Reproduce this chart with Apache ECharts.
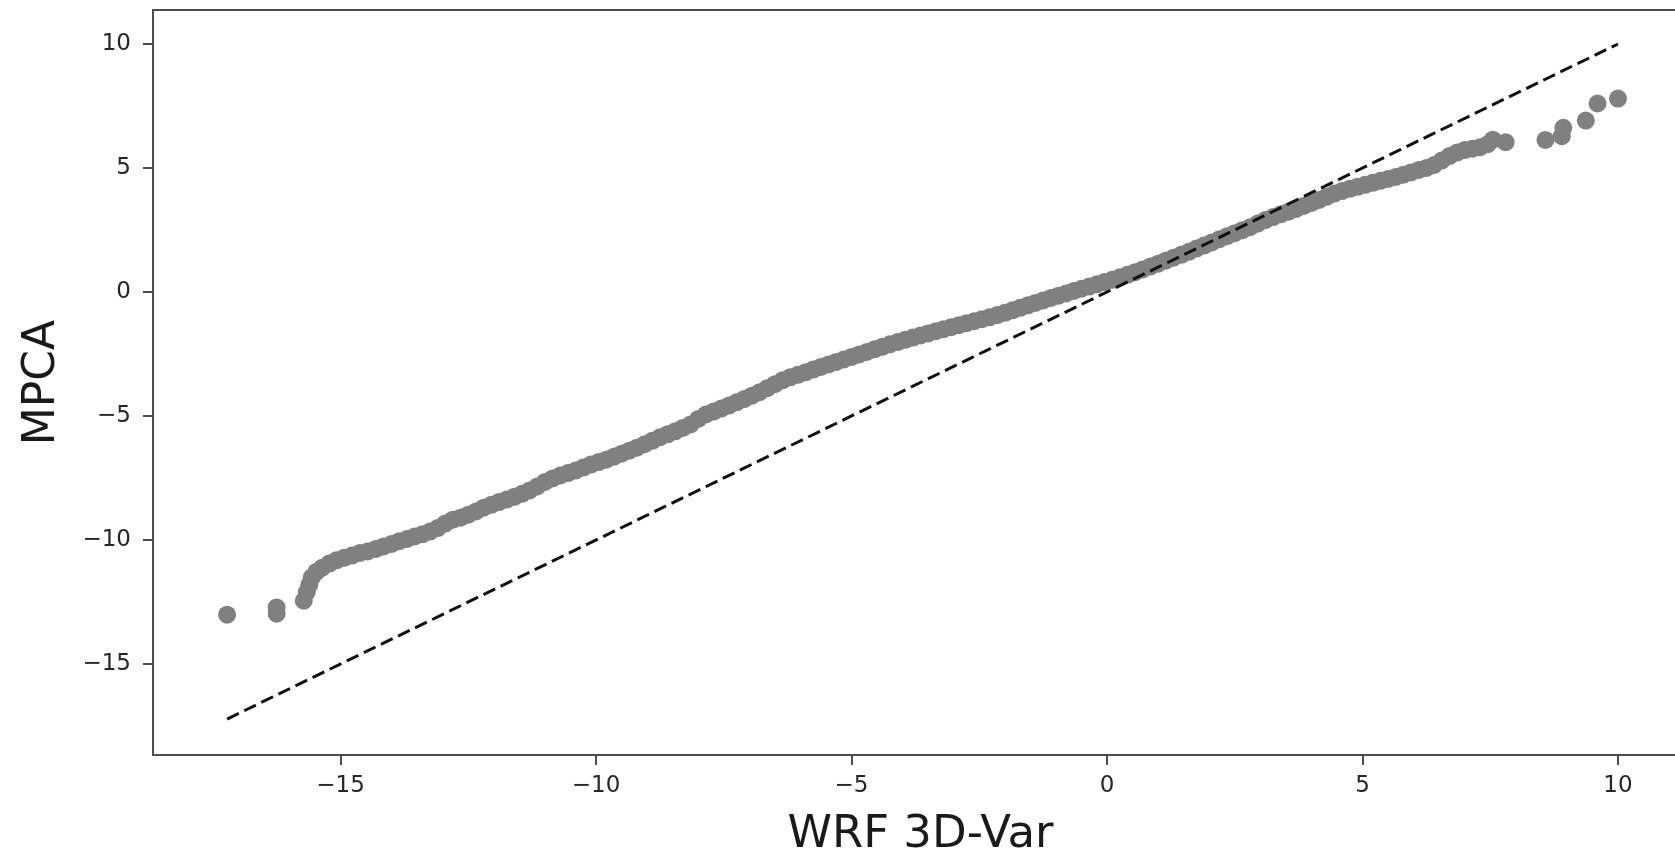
<!DOCTYPE html>
<html>
<head>
<meta charset="utf-8">
<title>MPCA vs WRF 3D-Var quantiles</title>
<script src="https://cdn.jsdelivr.net/npm/echarts@6/dist/echarts.min.js"></script>
<style>
  html, body { margin: 0; padding: 0; background: #ffffff; }
  #chart { width: 1675px; height: 859px; }
</style>
</head>
<body>
<div id="chart"></div>
<script>
// Sorted quantiles: WRF 3D-Var (x) against MPCA (y)
const wrfQuantiles = [
  -17.22, -16.25, -16.25,
  -15.72, -15.66, -15.61, -15.56, -15.47, -15.36, -15.22, -15.08, -14.93, -14.78,
  -14.62, -14.47, -14.31, -14.16, -14.00, -13.85, -13.70, -13.55, -13.40, -13.25,
  -13.10, -12.95, -12.80, -12.65, -12.50, -12.35, -12.20, -12.05, -11.90, -11.75,
  -11.60, -11.45, -11.30, -11.15, -11.00, -10.85, -10.70, -10.55, -10.40, -10.25,
  -10.10, -9.95, -9.80, -9.65, -9.50, -9.35, -9.20, -9.05, -8.90, -8.75,
  -8.60, -8.45, -8.30, -8.15, -8.00, -7.85, -7.70, -7.55, -7.40, -7.25,
  -7.10, -6.95, -6.80, -6.65, -6.50, -6.35, -6.20, -6.05, -5.90, -5.75,
  -5.60, -5.45, -5.30, -5.15, -5.00, -4.85, -4.70, -4.55, -4.40, -4.25,
  -4.10, -3.95, -3.80, -3.65, -3.50, -3.35, -3.20, -3.05, -2.90, -2.75,
  -2.60, -2.45, -2.30, -2.15, -2.00, -1.85, -1.70, -1.55, -1.40, -1.25,
  -1.10, -0.95, -0.80, -0.65, -0.50, -0.35, -0.20, -0.05, 0.10, 0.25,
  0.40, 0.55, 0.70, 0.85, 1.00, 1.15, 1.30, 1.45, 1.60, 1.75,
  1.90, 2.05, 2.20, 2.35, 2.50, 2.65, 2.80, 2.95, 3.10, 3.25,
  3.40, 3.55, 3.70, 3.85, 4.00, 4.15, 4.30, 4.45, 4.60, 4.75,
  4.90, 5.05, 5.20, 5.35, 5.50, 5.65, 5.80, 5.95, 6.10, 6.25,
  6.40, 6.55, 6.70, 6.85, 7.00, 7.15, 7.30, 7.45, 7.55, 7.80,
  8.58, 8.90, 8.93, 9.37, 9.60, 10.00
];
const mpcaQuantiles = [
  -13.01, -12.72, -12.97,
  -12.45, -12.10, -11.80, -11.50, -11.28, -11.12, -10.95, -10.82, -10.72, -10.63,
  -10.52, -10.46, -10.36, -10.26, -10.16, -10.05, -9.96, -9.86, -9.77, -9.66,
  -9.52, -9.34, -9.18, -9.10, -8.98, -8.85, -8.70, -8.58, -8.47, -8.37,
  -8.26, -8.14, -8.00, -7.84, -7.66, -7.52, -7.40, -7.30, -7.20, -7.08,
  -6.96, -6.86, -6.76, -6.64, -6.52, -6.40, -6.28, -6.14, -6.00, -5.86,
  -5.74, -5.62, -5.48, -5.34, -5.12, -4.94, -4.82, -4.70, -4.58, -4.45,
  -4.32, -4.18, -4.04, -3.88, -3.72, -3.56, -3.44, -3.34, -3.24, -3.13,
  -3.02, -2.92, -2.82, -2.72, -2.62, -2.52, -2.42, -2.31, -2.21, -2.11,
  -2.02, -1.93, -1.84, -1.75, -1.67, -1.58, -1.50, -1.42, -1.34, -1.26,
  -1.18, -1.10, -1.02, -0.93, -0.84, -0.74, -0.64, -0.54, -0.44, -0.34,
  -0.24, -0.15, -0.06, 0.04, 0.13, 0.22, 0.31, 0.40, 0.49, 0.59,
  0.69, 0.80, 0.91, 1.03, 1.14, 1.26, 1.38, 1.50, 1.62, 1.75,
  1.87, 2.00, 2.13, 2.25, 2.37, 2.49, 2.61, 2.76, 2.90, 3.02,
  3.13, 3.24, 3.35, 3.47, 3.59, 3.71, 3.84, 3.97, 4.07, 4.16,
  4.24, 4.32, 4.40, 4.48, 4.56, 4.64, 4.73, 4.82, 4.92, 5.00,
  5.12, 5.30, 5.48, 5.62, 5.72, 5.78, 5.84, 5.96, 6.14, 6.04,
  6.13, 6.28, 6.62, 6.91, 7.60, 7.80
];

// 1:1 reference line, drawn from the smallest to the largest quantile
const referenceLine = [-17.22, 10.00];

// Axis ticks and their labels
const tickValues = [-15, -10, -5, 0, 5, 10];
const xTickLabels = ['\u221215', '\u221210', '\u22125', '0', '5', '10'];
const yTickLabels = ['\u221215', '\u221210', '\u22125', '0', '5', '10'];

const points = wrfQuantiles.map((x, i) => [x, mpcaQuantiles[i]]);
const linePoints = referenceLine.map(v => [v, v]);

const FONT = 'DejaVu Sans';
const SPINE = '#4d4d4d';

function labelFor(labels) {
  return function (value) {
    const idx = tickValues.indexOf(Math.round(value));
    return idx >= 0 ? labels[idx] : '';
  };
}

const chart = echarts.init(document.getElementById('chart'), null, { renderer: 'canvas' });

chart.setOption({
  backgroundColor: '#ffffff',
  animation: false,
  grid: {
    left: 153,
    top: 10,
    width: 1535,
    height: 745,
    outerBoundsMode: 'none',
    containLabel: false,
    show: false
  },
  xAxis: [
    {
      type: 'value',
      position: 'bottom',
      min: -18.67,
      max: 11.37,
      name: 'WRF 3D-Var',
      nameLocation: 'middle',
      nameGap: 58,
      nameTextStyle: { fontFamily: FONT, fontSize: 45, color: '#1a1a1a' },
      axisLine: { show: true, onZero: false, lineStyle: { color: SPINE, width: 2 } },
      axisTick: {
        show: true, inside: false, length: 10,
        customValues: tickValues,
        lineStyle: { color: SPINE, width: 2 }
      },
      axisLabel: {
        show: true, margin: 20,
        customValues: tickValues,
        formatter: labelFor(xTickLabels),
        fontFamily: FONT, fontSize: 23, color: '#262626'
      },
      splitLine: { show: false }
    },
    {
      // top spine of the frame
      type: 'value',
      position: 'top',
      min: -18.67,
      max: 11.37,
      axisLine: { show: true, onZero: false, lineStyle: { color: SPINE, width: 2 } },
      axisTick: { show: false },
      axisLabel: { show: false },
      splitLine: { show: false }
    }
  ],
  yAxis: {
    type: 'value',
    min: -18.67,
    max: 11.37,
    name: 'MPCA',
    nameLocation: 'middle',
    nameRotate: 90,
    nameGap: 88,
    nameTextStyle: { fontFamily: FONT, fontSize: 44, color: '#1a1a1a' },
    axisLine: { show: true, onZero: false, lineStyle: { color: SPINE, width: 2 } },
    axisTick: {
      show: true, inside: false, length: 10,
      customValues: tickValues,
      lineStyle: { color: SPINE, width: 2 }
    },
    axisLabel: {
      show: true, margin: 22,
      customValues: tickValues,
      formatter: labelFor(yTickLabels),
      fontFamily: FONT, fontSize: 23, color: '#262626'
    },
    splitLine: { show: false }
  },
  series: [
    {
      name: 'quantiles',
      type: 'scatter',
      xAxisIndex: 0,
      data: points,
      symbol: 'circle',
      symbolSize: 18,
      itemStyle: { color: '#808080', opacity: 1 },
      z: 2
    },
    {
      name: '1:1',
      type: 'line',
      xAxisIndex: 0,
      data: linePoints,
      symbol: 'none',
      lineStyle: { color: '#111111', width: 3, type: [13, 6] },
      z: 3
    }
  ]
});
</script>
</body>
</html>
